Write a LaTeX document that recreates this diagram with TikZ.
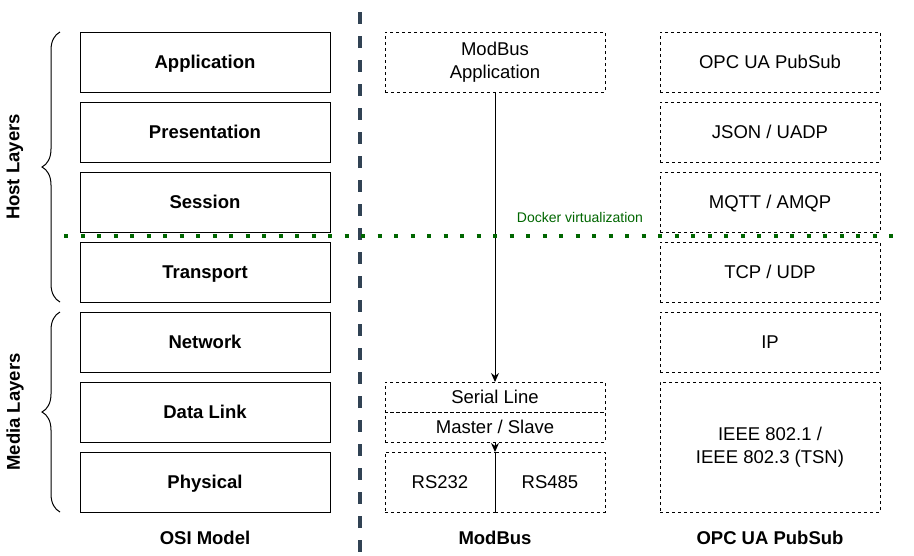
\documentclass[tikz,border=0pt]{standalone}
\usepackage{fontspec}
\setmainfont{Liberation Sans}
\usepackage{tikz}
\usetikzlibrary{positioning, arrows.meta, decorations.pathreplacing}

\begin{document}
\begin{tikzpicture}
		[x=1pt,y=-1pt,line cap=butt,
		%Styles
		layer/.style={draw,line width=1pt,minimum width=250pt,minimum height=60pt,inner sep=0pt,outer sep=0pt,
			text height=16pt,text depth=2.8pt,font=\fontsize{18.5}{23}\selectfont\bfseries},
		proto/.style={draw,line width=1pt,dash pattern=on 3pt off 3pt,minimum width=220pt,minimum height=60pt,
			inner sep=0pt,outer sep=0pt,align=center,font=\fontsize{18.5}{23}\selectfont},
		oneline/.style={proto,text height=16pt,text depth=2.8pt},
		half/.style={oneline,minimum height=30pt},
		split/.style={oneline,minimum width=110pt},
		title/.style={font=\fontsize{18.5}{23}\selectfont\bfseries},
		layerbrace/.style={decorate,decoration={brace,amplitude=18pt,aspect=0.5},line width=1pt},
		flow/.style={line width=1pt,-{Stealth[length=9pt,width=8pt]}}
		]
		
		%Colors
		\definecolor{dividercolor}{HTML}{314354}
		\definecolor{dockergreen}{HTML}{006600}
		
		\useasboundingbox (0,0) rectangle (914,555);
		
		%OSI model
		\node[layer] (app) at (205,62) {Application};
		\node[layer, below=10pt of app] (pres) {Presentation};
		\node[layer, below=10pt of pres] (sess) {Session};
		\node[layer, below=10pt of sess] (trans) {Transport};
		\node[layer, below=10pt of trans] (net) {Network};
		\node[layer, below=10pt of net] (link) {Data Link};
		\node[layer, below=10pt of link] (phys) {Physical};
		\node[title] (osi) at (205,538) {OSI Model};
		
		\draw[layerbrace] ([xshift=-20pt]trans.south west) -- ([xshift=-20pt]app.north west);
		\draw[layerbrace] ([xshift=-20pt]phys.south west) -- ([xshift=-20pt]net.north west);
		\node[title, rotate=90] (host) at (15,167) {Host Layers};
		\node[title, rotate=90] (media) at (15,412) {Media Layers};
		
		%ModBus
		\node[proto] (mbapp) at (495,62) {ModBus\\Application};
		\node[half] (serial) at (495,397) {Serial Line};
		\node[half, below=0pt of serial] (master) {Master / Slave};
		\node[split, anchor=north west] (rs232) at ([yshift=-10pt]master.south west) {RS232};
		\node[split, right=0pt of rs232] (rs485) {RS485};
		\node[title] (modbus) at (495,538) {ModBus};
		
		\draw[flow] (mbapp.south) -- (serial.north);
		\draw[flow] (master.south) -- (rs232.north east);
		
		%OPC UA PubSub
		\node[oneline] (pubsub) at (770,62) {OPC UA PubSub};
		\node[oneline, below=10pt of pubsub] (json) {JSON / UADP};
		\node[oneline, below=10pt of json] (mqtt) {MQTT / AMQP};
		\node[oneline, below=10pt of mqtt] (tcp) {TCP / UDP};
		\node[oneline, below=10pt of tcp] (ip) {IP};
		\node[proto, below=10pt of ip, minimum height=130pt] (ieee) {IEEE 802.1 /\\IEEE 802.3 (TSN)};
		\node[title] (opc) at (770,538) {OPC UA PubSub};
		
		%Separators
		\draw[dividercolor,line width=4pt,dash pattern=on 12pt off 12pt] (360,12) -- (360,555);
		\draw[dockergreen,line width=4pt,dash pattern=on 4pt off 12.5pt] (64,236) -- (905,236);
		\node[dockergreen,font=\fontsize{14}{17}\selectfont] (docker) at (580,217) {Docker virtualization};
	\end{tikzpicture}
\end{document}
